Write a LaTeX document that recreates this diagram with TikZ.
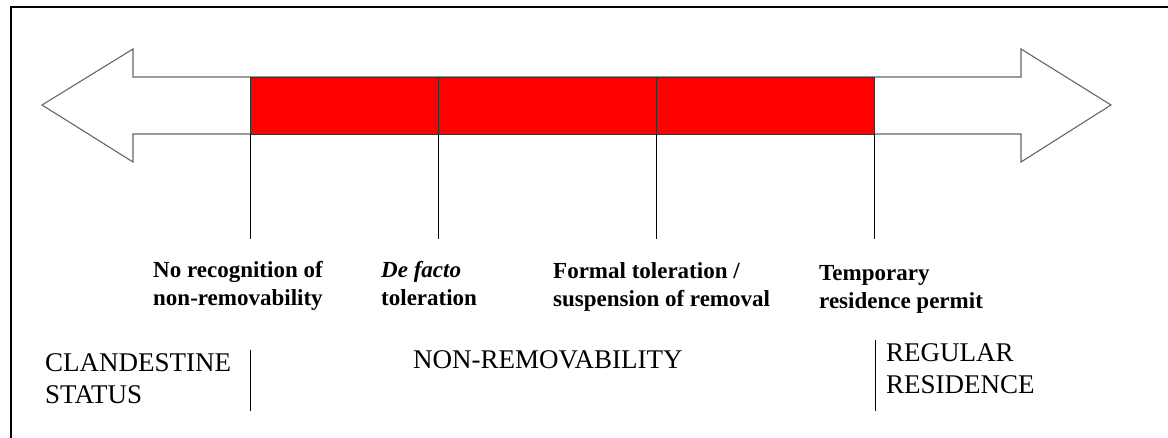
\documentclass[tikz,border=0pt]{standalone}
\usepackage{fontspec}
\setmainfont{Liberation Serif}
\begin{document}
\begin{tikzpicture}[x=1pt,y=-1pt,
  frameline/.style={line width=2pt,black},
  arrowshape/.style={draw=black!60,line width=1.1pt,fill=white,line join=miter},
  redbar/.style={draw=black!80,line width=0.9pt,fill=red},
  tickline/.style={draw=black,line width=0.9pt},
  lbl/.style={font=\fontsize{23}{28}\selectfont\bfseries,align=left,anchor=base west,inner sep=0pt},
  cat/.style={font=\fontsize{27}{31.5}\selectfont,align=left,anchor=base west,inner sep=0pt}]
\useasboundingbox (0,0) rectangle (1168,438);
\fill[white] (0,0) rectangle (1168,438);
% frame (top and left edges)
\draw[frameline] (11,438) -- (11,7) -- (1168,7);
% double-headed block arrow
\draw[arrowshape] (42,105) -- (133,49) -- (133,77) -- (1021,77) -- (1021,49) -- (1111,105)
  -- (1021,162) -- (1021,134) -- (133,134) -- (133,162) -- cycle;
% red bar in three segments
\coordinate (a1) at (250,77);   \coordinate (b1) at (250,134);
\coordinate (a2) at (438.5,77); \coordinate (b2) at (438.5,134);
\coordinate (a3) at (656.5,77); \coordinate (b3) at (656.5,134);
\coordinate (a4) at (874.5,77); \coordinate (b4) at (874.5,134);
\draw[redbar] (a1) rectangle (b2);
\draw[redbar] (a2) rectangle (b3);
\draw[redbar] (a3) rectangle (b4);
% ticks under the bar
\coordinate (c1) at (250,239);
\coordinate (c2) at (438.5,239);
\coordinate (c3) at (656.5,239);
\coordinate (c4) at (874.5,239);
\draw[tickline] (b1) -- (c1);
\draw[tickline] (b2) -- (c2);
\draw[tickline] (b3) -- (c3);
\draw[tickline] (b4) -- (c4);
% labels (anchor = baseline of the last line)
\node[lbl] (l1) at (153,306) {No recognition of\\non-removability};
\node[lbl] (l2) at (381,306) {\itshape De facto\\toleration};
\node[lbl] (l3) at (553,307) {Formal toleration /\\suspension of removal};
\node[lbl] (l4) at (819,309) {Temporary\\residence permit};
% categories
\node[cat] (k1) at (45,403) {CLANDESTINE\\STATUS};
\node[cat] (k2) at (413,369) {NON-REMOVABILITY};
\node[cat] (k3) at (886,393) {REGULAR\\RESIDENCE};
% dividers
\coordinate (d1t) at (250,350); \coordinate (d1b) at (250,411);
\coordinate (d2t) at (875,340); \coordinate (d2b) at (875,411);
\draw[tickline] (d1t) -- (d1b);
\draw[tickline] (d2t) -- (d2b);
\end{tikzpicture}
\end{document}
